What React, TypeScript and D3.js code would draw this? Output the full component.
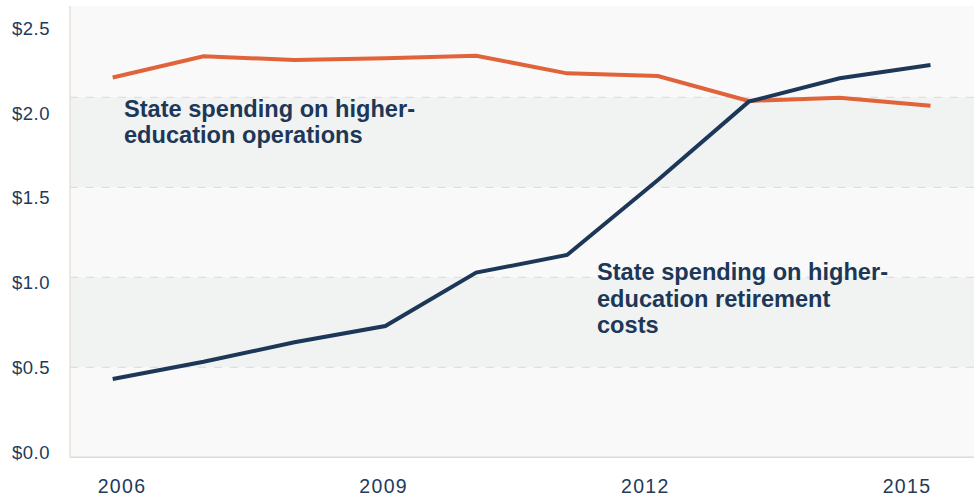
import React from "react";
import * as d3 from "d3";

const years = [2006, 2007, 2008, 2009, 2010, 2011, 2012, 2013, 2014, 2015];
const operations = [2.11, 2.228, 2.207, 2.217, 2.231, 2.133, 2.118, 1.98, 1.998, 1.953];
const retirement = [0.435, 0.531, 0.639, 0.729, 1.026, 1.124, 1.541, 1.976, 2.106, 2.18];
const yTicks = [0, 0.5, 1.0, 1.5, 2.0, 2.5];
const xTicks = [2006, 2009, 2012, 2015];
const bands = [
  [0, 0.5, false],
  [0.5, 1.0, true],
  [1.0, 1.5, false],
  [1.5, 2.0, true],
  [2.0, 2.5, false],
] as [number, number, boolean][];
const labelOps = ["State spending on higher-", "education operations"];
const labelRet = ["State spending on higher-", "education retirement", "costs"];

const W = 974;
const H = 499;
const left = 70;
const right = 974;
const top = 7.3;
const bottom = 457.3;

export default function App() {
  const x = d3.scaleLinear().domain([2006, 2015]).range([112.7, 930.5]);
  const y = d3.scaleLinear().domain([0, 2.5]).range([bottom, top]);
  const xLab = d3.scaleLinear().domain([2006, 2015]).range([122, 907]);
  const yLab = d3.scaleLinear().domain([0, 2.5]).range([452, 28.3]);
  const line = d3
    .line<number>()
    .x((_, i) => x(years[i]))
    .y((d) => y(d));
  const navy = "#1c3757";
  const orange = "#e0633a";
  return (
    <svg
      width={W}
      height={H}
      style={{ position: "absolute", left: 0, top: 0, background: "#ffffff" }}
    >
      <rect x={left} y={top - 1.3} width={right - left} height={bottom - top + 1.3} fill="#f9f9f9" />
      {bands.map(([a, b, dark], i) => (
        <rect
          key={i}
          x={left}
          y={y(b)}
          width={right - left}
          height={y(a) - y(b)}
          fill={dark ? "#f1f2f2" : "#f9f9f9"}
        />
      ))}
      {yTicks
        .filter((t) => t > 0 && t < 2.5)
        .map((t) => (
          <line
            key={t}
            x1={left}
            x2={right}
            y1={y(t)}
            y2={y(t)}
            stroke="#e6dede"
            strokeWidth={1.2}
            strokeDasharray="8,8"
          />
        ))}
      <line x1={left} x2={left} y1={top - 1.3} y2={bottom} stroke="#e8dfd8" strokeWidth={1.5} />
      <line x1={left} x2={right} y1={bottom} y2={bottom} stroke="#e2d9d2" strokeWidth={1.5} />
      {yTicks.map((t) => (
        <text
          key={t}
          x={12}
          y={yLab(t) + 6.5}
          fontFamily="Liberation Sans, Arial, sans-serif"
          fontSize={18.5}
          letterSpacing={0.5}
          fill="#1f3a5b"
        >
          {"$" + t.toFixed(1)}
        </text>
      ))}
      {xTicks.map((t) => (
        <text
          key={t}
          x={xLab(t)}
          y={493}
          textAnchor="middle"
          fontFamily="Liberation Sans, Arial, sans-serif"
          fontSize={19.5}
          letterSpacing={1.3}
          fill="#1f3a5b"
        >
          {t}
        </text>
      ))}
      <path d={line(operations) || ""} fill="none" stroke={orange} strokeWidth={4} strokeLinejoin="miter" />
      <path d={line(retirement) || ""} fill="none" stroke={navy} strokeWidth={4} strokeLinejoin="miter" />
      {labelOps.map((s, i) => (
        <text
          key={i}
          x={124}
          y={116.7 + i * 26.7}
          fontFamily="Liberation Sans, Arial, sans-serif"
          fontWeight="bold"
          fontSize={23.6}
          fill={navy}
        >
          {s}
        </text>
      ))}
      {labelRet.map((s, i) => (
        <text
          key={i}
          x={597}
          y={280 + i * 26.7}
          fontFamily="Liberation Sans, Arial, sans-serif"
          fontWeight="bold"
          fontSize={23.6}
          fill={navy}
        >
          {s}
        </text>
      ))}
    </svg>
  );
}
